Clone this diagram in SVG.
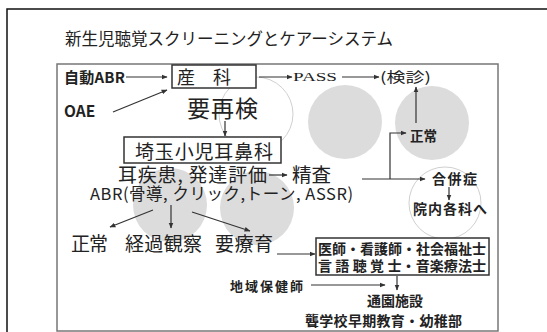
<svg xmlns="http://www.w3.org/2000/svg" width="547" height="332" viewBox="0 0 547 332">
<defs>
<style>
text{font-family:"Noto Sans CJK JP","Noto Sans",sans-serif;fill:#222}
.b{font-weight:bold}
.m{font-weight:normal}
.ln{stroke:#333;stroke-width:1.2;fill:none}
.c{fill:#dcdcdc}
.co{fill:none;stroke:#d0d0d0;stroke-width:1}
.bx{fill:#fff;stroke:#333;stroke-width:1.5}
</style>
<marker id="a" viewBox="0 0 10 10" refX="9" refY="5" markerWidth="6" markerHeight="6" orient="auto-start-reverse" markerUnits="userSpaceOnUse">
<path d="M0,1 L10,5 L0,9 Z" fill="#333"/>
</marker>
</defs>
<rect width="547" height="332" fill="#fff"/>
<rect x="7" y="9" width="580" height="360" fill="none" stroke="#111" stroke-width="1.5"/>
<g id="background-circles">
<circle class="co" cx="256" cy="114" r="37"/>
<circle class="c" cx="345" cy="122" r="37"/>
<circle class="c" cx="432" cy="123" r="37"/>
<circle class="co" cx="445" cy="203" r="36"/>
<circle class="c" cx="170" cy="205" r="37"/>
<circle class="c" cx="257" cy="208" r="37"/>
</g>
<rect x="57" y="64" width="441" height="267" fill="none" stroke="#777" stroke-width="1.5"/>
<text id="title" x="65" y="45" font-size="16.5" textLength="328">新生児聴覚スクリーニングとケアーシステム</text>
<g id="connectors">
<line class="ln" x1="126" y1="77" x2="167" y2="77" marker-end="url(#a)"/>
<line class="ln" x1="113" y1="112" x2="167" y2="90" marker-end="url(#a)"/>
<line class="ln" x1="259" y1="77" x2="292" y2="77" marker-end="url(#a)"/>
<line class="ln" x1="342" y1="77" x2="379" y2="77" marker-end="url(#a)"/>
<line class="ln" x1="225" y1="121" x2="225" y2="136" marker-end="url(#a)"/>
<line class="ln" x1="269" y1="175" x2="287" y2="175" marker-end="url(#a)"/>
<line class="ln" x1="362" y1="179" x2="425" y2="179" marker-end="url(#a)"/>
<polyline class="ln" points="390,179 390,133 406,133" marker-end="url(#a)"/>
<line class="ln" x1="416" y1="123" x2="416" y2="87" marker-end="url(#a)"/>
<line class="ln" x1="449" y1="187" x2="449" y2="200" marker-end="url(#a)"/>
<line class="ln" x1="153" y1="210" x2="110" y2="227" marker-end="url(#a)"/>
<line class="ln" x1="171" y1="205" x2="171" y2="228" marker-end="url(#a)"/>
<line class="ln" x1="192" y1="212" x2="250" y2="231" marker-end="url(#a)"/>
<line class="ln" x1="277" y1="254" x2="315" y2="254" marker-end="url(#a)"/>
<line class="ln" x1="311" y1="285" x2="385" y2="285" marker-end="url(#a)"/>
<line class="ln" x1="397" y1="276" x2="397" y2="290" marker-end="url(#a)"/>
</g>
<g id="auto-abr"><text class="b" x="64" y="83" font-size="15" textLength="61">自動ABR</text></g>
<g id="oae"><text class="b" x="64" y="117" font-size="15.5">OAE</text></g>
<g id="sanka">
<rect class="bx" x="172" y="65" width="84" height="23"/>
<text x="177" y="84" font-size="18" class="m">産</text>
<text x="213" y="84" font-size="18" class="m">科</text>
</g>
<g id="pass"><text x="293" y="81" font-size="13.5" style="font-family:'Liberation Serif',serif" textLength="44" lengthAdjust="spacingAndGlyphs">PASS</text></g>
<g id="kenshin"><text x="380" y="82" font-size="14" class="m" textLength="51" lengthAdjust="spacingAndGlyphs">(検診)</text></g>
<g id="yousaiken"><text x="187" y="117" font-size="23" class="m" textLength="71">要再検</text></g>
<g id="saitama">
<rect class="bx" x="124" y="137" width="157" height="26"/>
<text x="135" y="159" font-size="19" class="m" textLength="138">埼玉小児耳鼻科</text>
</g>
<g id="mimishikkan"><text x="118" y="182" font-size="19" class="m" textLength="149">耳疾患, 発達評価</text></g>
<g id="seisa"><text x="292" y="182" font-size="19.5" class="m">精査</text></g>
<g id="abr2"><text x="90" y="200" font-size="16.5" class="m" textLength="263">ABR(骨導, クリック,トーン, ASSR)</text></g>
<g id="seijou-r"><text x="410" y="141" font-size="13.5" class="b" textLength="27">正常</text></g>
<g id="gappei"><text x="432" y="184" font-size="14" class="b" textLength="45">合併症</text></g>
<g id="innai"><text x="413" y="214" font-size="14" class="b" textLength="74">院内各科へ</text></g>
<g id="seijou"><text x="71" y="251" font-size="19" class="m" textLength="37">正常</text></g>
<g id="keika"><text x="125" y="251" font-size="19" class="m" textLength="77">経過観察</text></g>
<g id="youryouiku"><text x="215" y="251" font-size="19" class="m" textLength="58">要療育</text></g>
<g id="staff">
<rect class="bx" x="316" y="238" width="173" height="37"/>
<text x="318" y="254" font-size="14" class="b" textLength="168">医師・看護師・社会福祉士</text>
<text x="318" y="271" font-size="14" class="b" textLength="168">言 語 聴 覚 士・音楽療法士</text>
</g>
<g id="chiiki"><text x="230" y="291" font-size="13" class="b" textLength="73">地域保健師</text></g>
<g id="tsuuen"><text x="367" y="306" font-size="14" class="b" textLength="56">通園施設</text></g>
<g id="rougakkou"><text x="305" y="326" font-size="14" class="b" textLength="157">聾学校早期教育・幼稚部</text></g>
</svg>
